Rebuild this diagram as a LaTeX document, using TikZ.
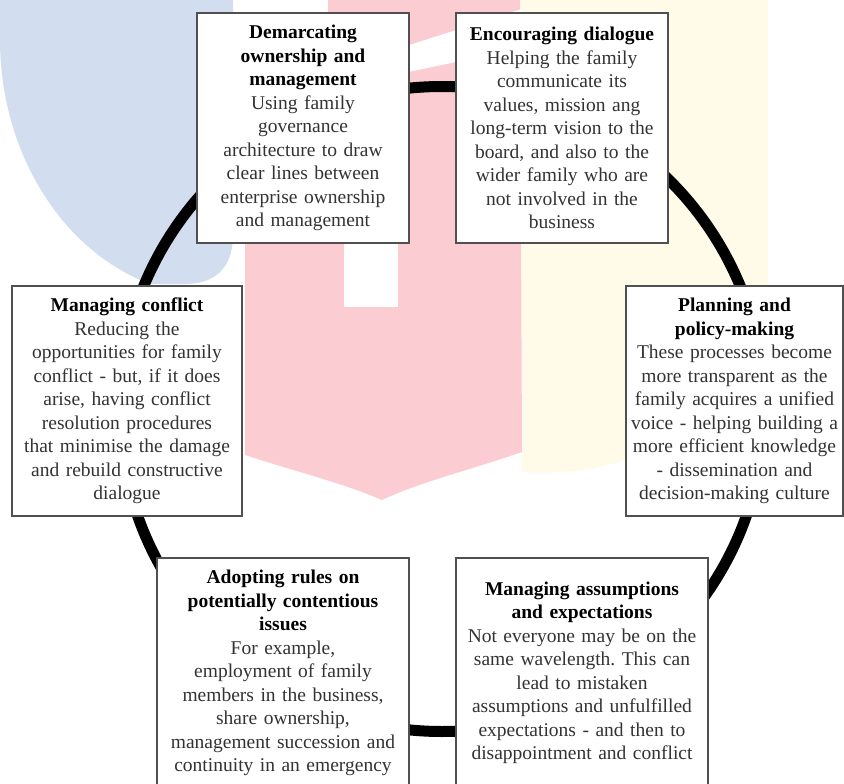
\documentclass[tikz,border=0pt]{standalone}
\usepackage{fontspec}
\setmainfont{Liberation Serif}
\frenchspacing
\definecolor{wmblue}{RGB}{211,221,240}
\definecolor{wmpink}{RGB}{251,205,210}
\definecolor{wmyellow}{RGB}{255,251,232}
\definecolor{boxline}{HTML}{505050}
\definecolor{bodytext}{HTML}{333333}
\newcommand{\boxhead}[1]{{\bfseries\color{black}#1}}
\begin{document}
\begin{tikzpicture}[x=1pt,y=-1pt,
  infobox/.style={draw=boxline, line width=1.3pt, fill=white, inner sep=0pt,
    minimum height=230pt, align=center, text=bodytext,
    font=\fontsize{19.5}{23.5}\selectfont},
  ring/.style={line width=11pt, draw=black}]
\useasboundingbox (0,0) rectangle (844,784);

% faint emblem in the background
\fill[wmyellow] (518,0) -- (768,0) -- (768,290)
  .. controls (745,420) and (640,480) .. (522,472) -- cycle;
\fill[wmblue] (0,0) -- (233,0) -- (233,235)
  .. controls (233,268) and (215,284) .. (185,284) -- (150,284)
  .. controls (60,250) and (0,150) .. (0,40) -- cycle;
\fill[wmpink] (328,0) -- (520,0) -- (522,452)
  .. controls (470,470) and (420,482) .. (382,500)
  .. controls (340,482) and (290,470) .. (245,455)
  -- (245,14) -- (328,14) -- cycle;
\fill[white] (328,71) -- (522,9) -- (522,48) -- (328,89) -- cycle;
\fill[white] (344,230) rectangle (398,307);

% the cycle ring behind the boxes
\coordinate (ringc) at (442,409);
\draw[ring] (ringc) circle[radius=322.5pt];

% the six boxes
\node[infobox, minimum width=212pt, text width=206pt] (demarc) at (303,128)
  {\boxhead{Demarcating\\ownership and\\management}\\
   Using family\\governance\\architecture to draw\\clear lines between\\
   enterprise ownership\\and management};

\node[infobox, minimum width=212pt, text width=206pt] (dialogue) at (562,128)
  {\boxhead{Encouraging dialogue}\\
   Helping the family\\communicate its\\values, mission ang\\
   long-term vision to the\\board, and also to the\\wider family who are\\
   not involved in the\\business};

\node[infobox, minimum width=230pt, text width=224pt] (conflict) at (127,401)
  {\boxhead{Managing conflict}\\
   Reducing the\\opportunities for family\\conflict - but, if it does\\
   arise, having conflict\\resolution procedures\\that minimise the damage\\
   and rebuild constructive\\dialogue};

\node[infobox, minimum width=217pt, text width=213pt] (planning) at (734.5,401)
  {\boxhead{Planning and\\policy-making}\\
   These processes become\\more transparent as the\\family acquires a unified\\
   voice - helping building a\\more efficient knowledge\\- dissemination and\\
   decision-making culture};

\node[infobox, minimum width=252pt, text width=246pt] (rules) at (283,673)
  {\boxhead{Adopting rules on\\potentially contentious\\issues}\\
   For example,\\employment of family\\members in the business,\\
   share ownership,\\management succession and\\continuity in an emergency};

\node[infobox, minimum width=252pt, text width=246pt] (assume) at (582,673)
  {\boxhead{Managing assumptions\\and expectations}\\
   Not everyone may be on the\\same wavelength. This can\\lead to mistaken\\
   assumptions and unfulfilled\\expectations - and then to\\
   disappointment and conflict};
\end{tikzpicture}
\end{document}
